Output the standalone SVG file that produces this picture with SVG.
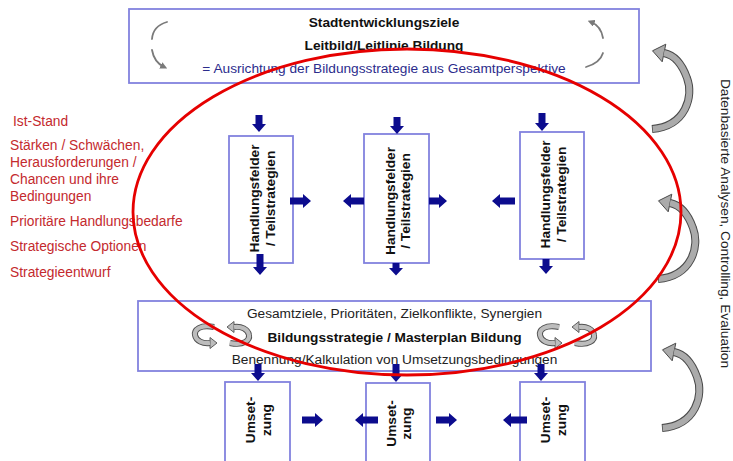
<svg xmlns="http://www.w3.org/2000/svg" xmlns:xlink="http://www.w3.org/1999/xlink" width="733" height="461" viewBox="0 0 733 461">
  <defs>
    <style>
      .box { fill: #ffffff; stroke: #8282de; stroke-width: 1.8; }
      .txt { font-family: "Liberation Sans", Arial, sans-serif; font-size: 13.7px; fill: #222222; }
      .bold { font-weight: bold; fill: #111111; }
      .blue { fill: #2c2c8c; }
      .red { font-family: "Liberation Sans", Arial, sans-serif; font-size: 13.8px; fill: #c42a2e; }
      .vt { font-family: "Liberation Sans", Arial, sans-serif; font-size: 13.7px; font-weight: bold; fill: #111111; text-anchor: middle; }
      .flow { fill: #0c0c8e; }
      .thin { fill: none; stroke: #7a7a7a; stroke-width: 1.8; stroke-linecap: round; }
      .band-out { fill: none; stroke: #4a4a4a; stroke-width: 8; }
      .band-in { fill: none; stroke: #ababab; stroke-width: 6; }
      .head { fill: #ababab; stroke: #4a4a4a; stroke-width: 1; stroke-linejoin: round; }
      .ring-out { fill: none; stroke: #505050; stroke-width: 6; }
      .ring-in { fill: none; stroke: #bdbdbd; stroke-width: 4.2; }
      .ring-head { fill: #bdbdbd; stroke: #505050; stroke-width: 0.9; stroke-linejoin: round; }
    </style>
    <marker id="small-head" viewBox="0 0 10 10" refX="5" refY="5" markerWidth="4" markerHeight="4" orient="auto" markerUnits="strokeWidth">
      <path d="M0,0 L10,5 L0,10 z" fill="#7a7a7a"/>
    </marker>
    <!-- large curved feedback arrow on the right side -->
    <g id="loop-arrow">
      <path class="band-out" d="M652,129 C686,126 694,96 687,78 C682,64 674,55 664,53"/>
      <polygon class="head" points="652.5,50.8 665.8,44.2 662.2,61.8"/>
      <path class="band-in" d="M652.8,129 C686,126 694,96 687,78 C682,64 674,55 664,53"/>
    </g>
    <!-- pair of small circular arrows -->
    <g id="ring-pair">
      <path class="ring-out" d="M21,5 C7,2 1,8 2,13 C3,19 10,22 17,21"/>
      <polygon class="ring-head" points="24,21 17,15.5 17,26.5"/>
      <path class="ring-in" d="M21.5,5 C7,2 1,8 2,13 C3,19 10,22 17,21"/>
      <path class="ring-out" d="M37,21 C51,24 57,18 56,13 C55,7 48,4 41,5"/>
      <polygon class="ring-head" points="34,5 41,-0.5 41,10.5"/>
      <path class="ring-in" d="M36.5,21 C51,24 57,18 56,13 C55,7 48,4 41,5"/>
    </g>
  </defs>

  <rect width="733" height="461" fill="#ffffff"/>

  <!-- Stadtentwicklungsziele -->
  <g id="goals">
    <rect class="box" x="129" y="9" width="510" height="74"/>
    <text class="txt bold" x="384" y="27" text-anchor="middle">Stadtentwicklungsziele</text>
    <text class="txt bold" x="384" y="50" text-anchor="middle">Leitbild/Leitlinie Bildung</text>
    <text class="txt blue" x="384" y="73" text-anchor="middle">= Ausrichtung der Bildungsstrategie aus Gesamtperspektive</text>
    <path class="thin" d="M167,22 Q153,26 152,39"/>
    <path class="thin" d="M152,50 Q154,62 164,67" marker-end="url(#small-head)"/>
    <path class="thin" d="M603,38 Q601,26 591,22" marker-end="url(#small-head)"/>
    <path class="thin" d="M603,53 Q600,63 586,67"/>
  </g>

  <!-- analysis steps -->
  <g id="steps">
    <text class="red" x="13" y="126">Ist-Stand</text>
    <text class="red" x="10" y="150">Stärken / Schwächen,</text>
    <text class="red" x="10" y="167">Herausforderungen /</text>
    <text class="red" x="10" y="184">Chancen und ihre</text>
    <text class="red" x="10" y="201">Bedingungen</text>
    <text class="red" x="10" y="226">Prioritäre Handlungsbedarfe</text>
    <text class="red" x="10" y="251">Strategische Optionen</text>
    <text class="red" x="10" y="277">Strategieentwurf</text>
  </g>

  <!-- Handlungsfelder -->
  <g id="field-1">
    <rect class="box" x="229" y="136" width="64" height="127"/>
    <g transform="translate(261,198.5) rotate(-90)">
      <text class="vt" x="0" y="-2">Handlungsfelder</text>
      <text class="vt" x="0" y="13.5">/ Teilstrategien</text>
    </g>
  </g>
  <g id="field-2">
    <rect class="box" x="364" y="134" width="65" height="129"/>
    <g transform="translate(396.5,201) rotate(-90)">
      <text class="vt" x="0" y="-2">Handlungsfelder</text>
      <text class="vt" x="0" y="13.5">/ Teilstrategien</text>
    </g>
  </g>
  <g id="field-3">
    <rect class="box" x="520" y="132" width="64" height="127"/>
    <g transform="translate(552,194.5) rotate(-90)">
      <text class="vt" x="0" y="-2">Handlungsfelder</text>
      <text class="vt" x="0" y="13.5">/ Teilstrategien</text>
    </g>
  </g>

  <!-- Bildungsstrategie / Masterplan -->
  <g id="strategy">
    <rect class="box" x="138" y="301" width="513" height="70"/>
    <text class="txt" x="394.5" y="318" text-anchor="middle">Gesamtziele, Prioritäten, Zielkonflikte, Synergien</text>
    <text class="txt bold" x="394.5" y="342" text-anchor="middle">Bildungsstrategie / Masterplan Bildung</text>
    <text class="txt" x="394.5" y="364" text-anchor="middle">Benennung/Kalkulation von Umsetzungsbedingungen</text>
    <use xlink:href="#ring-pair" transform="translate(193,322)"/>
    <use xlink:href="#ring-pair" transform="translate(538,322)"/>
  </g>

  <!-- Umsetzung -->
  <g id="impl-1">
    <rect class="box" x="225" y="382" width="65" height="90"/>
    <g transform="translate(257.5,420) rotate(-90)">
      <text class="vt" x="0" y="-2.5">Umset-</text>
      <text class="vt" x="0" y="13">zung</text>
    </g>
  </g>
  <g id="impl-2">
    <rect class="box" x="366" y="383" width="64" height="90"/>
    <g transform="translate(398,423.5) rotate(-90)">
      <text class="vt" x="0" y="-2.5">Umset-</text>
      <text class="vt" x="0" y="13">zung</text>
    </g>
  </g>
  <g id="impl-3">
    <rect class="box" x="520" y="382" width="65" height="90"/>
    <g transform="translate(552.5,420) rotate(-90)">
      <text class="vt" x="0" y="-2.5">Umset-</text>
      <text class="vt" x="0" y="13">zung</text>
    </g>
  </g>

  <!-- block arrows between the stages -->
  <g id="connectors" class="flow">
    <!-- into the fields -->
    <polygon points="255.5,115 262.5,115 262.5,124 266,124 259,132 252,124 255.5,124"/>
    <polygon points="393.5,117 400.5,117 400.5,126 404,126 397,134 390,126 393.5,126"/>
    <polygon points="538.5,113 545.5,113 545.5,123 549,123 542,131 535,123 538.5,123"/>
    <!-- out of the fields -->
    <polygon points="256.5,254 263.5,254 263.5,267 267,267 260,275 253,267 256.5,267"/>
    <polygon points="392.5,263 399.5,263 399.5,268 403,268 396,275.5 389,268 392.5,268"/>
    <polygon points="542.5,259 549.5,259 549.5,266 553,266 546,274 539,266 542.5,266"/>
    <!-- between the fields -->
    <polygon points="290,197.5 303,197.5 303,194 311,201 303,208 303,204.5 290,204.5"/>
    <polygon points="364,197.5 351,197.5 351,194 343,201 351,208 351,204.5 364,204.5"/>
    <polygon points="429,197.5 439,197.5 439,194 447,201 439,208 439,204.5 429,204.5"/>
    <polygon points="515,197.5 500,197.5 500,194 492,201 500,208 500,204.5 515,204.5"/>
    <!-- strategy to implementation -->
    <polygon points="254.5,364 261.5,364 261.5,373 265,373 258,381 251,373 254.5,373"/>
    <polygon points="392.5,364 399.5,364 399.5,374 403,374 396,382 389,374 392.5,374"/>
    <polygon points="537.5,364 544.5,364 544.5,373 548,373 541,381 534,373 537.5,373"/>
    <!-- between the implementations -->
    <polygon points="302,416.5 315,416.5 315,413 323,420 315,427 315,423.5 302,423.5"/>
    <polygon points="378,416.5 363,416.5 363,413 355,420 363,427 363,423.5 378,423.5"/>
    <polygon points="436,416.5 449,416.5 449,413 457,420 449,427 449,423.5 436,423.5"/>
    <polygon points="527,416.5 511,416.5 511,413 503,420 511,427 511,423.5 527,423.5"/>
  </g>

  <!-- feedback loop -->
  <g id="feedback">
    <use xlink:href="#loop-arrow"/>
    <use xlink:href="#loop-arrow" transform="translate(6,150)"/>
    <use xlink:href="#loop-arrow" transform="translate(10,299)"/>
    <text class="txt" fill="#333333" transform="translate(720.5,223.5) rotate(90)" x="0" y="0" text-anchor="middle">Datenbasierte Analysen, Controlling, Evaluation</text>
  </g>

  <!-- highlight of the strategy phase -->
  <ellipse id="focus" cx="407" cy="212" rx="274" ry="163" fill="none" stroke="#e60000" stroke-width="2.8"/>
</svg>
